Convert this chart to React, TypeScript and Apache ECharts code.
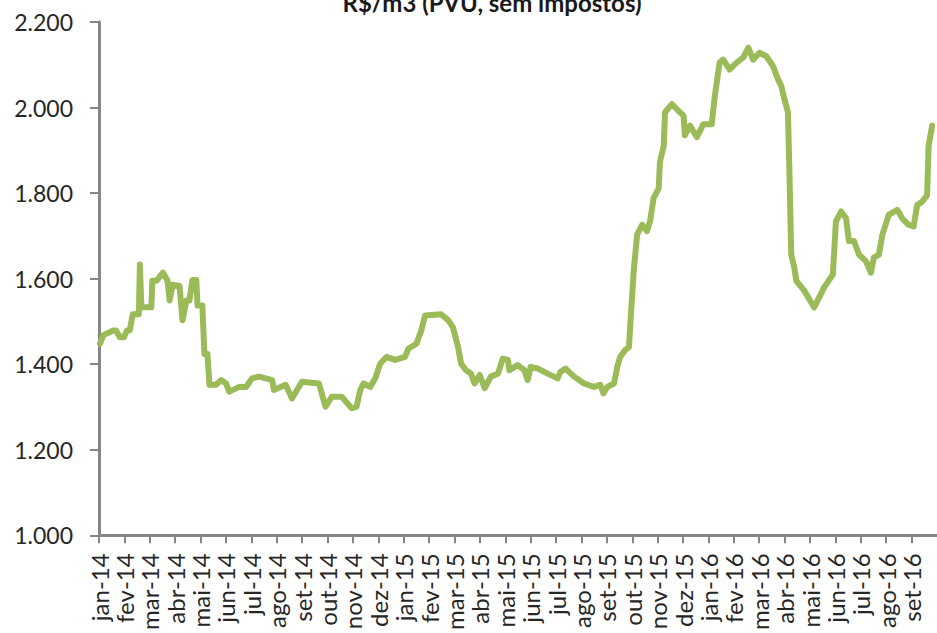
import React, { useEffect, useRef } from "react";
import * as echarts from "echarts";

const titleText = "R$/m3 (PVU, sem impostos)";

const monthLabels = [
  "jan-14", "fev-14", "mar-14", "abr-14", "mai-14", "jun-14", "jul-14", "ago-14", "set-14", "out-14", "nov-14", "dez-14",
  "jan-15", "fev-15", "mar-15", "abr-15", "mai-15", "jun-15", "jul-15", "ago-15", "set-15", "out-15", "nov-15", "dez-15",
  "jan-16", "fev-16", "mar-16", "abr-16", "mai-16", "jun-16", "jul-16", "ago-16", "set-16",
];

// position in months since jan-14
const monthPos = [
  0.04, 0.17, 0.56, 0.67, 0.82, 0.98, 1.10, 1.21, 1.33, 1.57, 1.61, 1.67, 2.06, 2.10, 2.26, 2.52, 2.70, 2.78, 2.90, 3.17,
  3.29, 3.44, 3.56, 3.68, 3.83, 3.88, 4.07, 4.15, 4.27, 4.35, 4.61, 4.81, 5.00, 5.13, 5.52, 5.79, 6.03, 6.31, 6.82, 6.89,
  7.35, 7.60, 7.99, 8.66, 8.92, 9.17, 9.56, 9.95, 10.14, 10.29, 10.42, 10.68, 10.88, 11.07, 11.32, 11.66, 12.05, 12.18, 12.50, 12.69,
  12.84, 13.47, 13.75, 13.94, 14.14, 14.26, 14.45, 14.65, 14.79, 14.99, 15.19, 15.43, 15.71, 15.90, 16.10, 16.16, 16.49, 16.75, 16.88, 17.00,
  17.27, 17.67, 18.06, 18.17, 18.37, 18.71, 19.10, 19.49, 19.74, 19.86, 20.02, 20.28, 20.41, 20.52, 20.72, 20.87, 20.95, 21.06, 21.19, 21.39,
  21.58, 21.70, 21.84, 22.04, 22.09, 22.24, 22.29, 22.56, 22.76, 23.02, 23.07, 23.27, 23.54, 23.80, 24.13, 24.25, 24.44, 24.58, 24.83, 25.11,
  25.37, 25.57, 25.76, 26.01, 26.28, 26.54, 26.74, 26.87, 26.99, 27.13, 27.18, 27.26, 27.38, 27.46, 27.77, 28.16, 28.36, 28.55, 28.90, 29.02,
  29.22, 29.42, 29.53, 29.73, 29.93, 30.20, 30.40, 30.51, 30.71, 30.85, 31.10, 31.44, 31.63, 31.88, 32.08, 32.22, 32.42, 32.61, 32.67, 32.81,
];

const priceValues = [
  1448, 1468, 1479, 1479, 1463, 1463, 1479, 1479, 1517, 1517, 1633, 1533, 1533, 1595, 1595, 1614, 1595, 1549, 1586, 1583,
  1503, 1549, 1549, 1597, 1597, 1537, 1537, 1424, 1424, 1352, 1352, 1363, 1355, 1336, 1347, 1347, 1367, 1371, 1363, 1340,
  1352, 1320, 1359, 1355, 1301, 1324, 1324, 1297, 1301, 1340, 1355, 1347, 1367, 1401, 1417, 1410, 1417, 1436, 1448, 1479,
  1514, 1517, 1503, 1486, 1440, 1401, 1386, 1378, 1355, 1375, 1344, 1371, 1378, 1413, 1410, 1386, 1398, 1386, 1363, 1394,
  1390, 1378, 1367, 1382, 1390, 1371, 1355, 1347, 1352, 1332, 1347, 1355, 1394, 1417, 1433, 1440, 1520, 1620, 1703, 1726,
  1711, 1734, 1788, 1811, 1873, 1911, 1989, 2008, 1996, 1981, 1935, 1958, 1931, 1961, 1961, 2027, 2105, 2112, 2089, 2105,
  2117, 2140, 2112, 2128, 2120, 2097, 2066, 2050, 2020, 1989, 1873, 1656, 1626, 1595, 1572, 1533, 1556, 1579, 1610, 1734,
  1757, 1741, 1688, 1688, 1656, 1641, 1614, 1649, 1656, 1703, 1749, 1761, 1741, 1726, 1722, 1772, 1780, 1795, 1911, 1958,
];

const yTicks = [1000, 1200, 1400, 1600, 1800, 2000, 2200];

export default function App() {
  const ref = useRef<HTMLDivElement>(null);

  useEffect(() => {
    if (!ref.current) return;
    const chart = echarts.init(ref.current, undefined, { renderer: "svg" });
    const font = "Lato, 'Noto Sans', sans-serif";
    const axisGray = "#868686";
    chart.setOption({
      animation: false,
      backgroundColor: "#ffffff",
      graphic: [
        {
          type: "text",
          x: 492,
          y: 2,
          style: {
            text: titleText,
            font: "bold 24px " + font,
            fill: "#1a1a1a",
            align: "center",
            verticalAlign: "middle",
          },
        },
      ],
      grid: { left: 99, right: -4.5, top: 22, bottom: 95, containLabel: false },
      xAxis: {
        type: "value",
        min: 0,
        max: 33,
        interval: 1,
        splitLine: { show: false },
        axisLine: { show: true, onZero: false, lineStyle: { color: axisGray, width: 3 } },
        axisTick: { show: true, inside: false, length: 8, lineStyle: { color: axisGray, width: 2 } },
        axisLabel: {
          rotate: 90,
          margin: 18,
          fontFamily: font,
          fontSize: 24,
          color: "#262626",
          showMaxLabel: false,
          formatter: (v: number) => {
            const i = Math.round(v);
            return Math.abs(v - i) < 1e-6 && i < monthLabels.length ? monthLabels[i] : "";
          },
        },
      },
      yAxis: {
        type: "value",
        min: yTicks[0],
        max: yTicks[yTicks.length - 1],
        interval: 200,
        splitLine: { show: false },
        axisLine: { show: true, lineStyle: { color: axisGray, width: 3 } },
        axisTick: { show: true, inside: false, length: 9, lineStyle: { color: axisGray, width: 2 } },
        axisLabel: {
          margin: 26,
          fontFamily: font,
          fontSize: 23,
          color: "#262626",
          formatter: (v: number) => (v / 1000).toFixed(3),
        },
      },
      series: [
        {
          type: "line",
          data: monthPos.map((m, i) => [m, priceValues[i]]),
          showSymbol: false,
          symbol: "none",
          clip: true,
          lineStyle: { color: "#9BBB59", width: 6, join: "round", cap: "round" },
        },
      ],
    });
    return () => chart.dispose();
  }, []);

  return (
    <div
      ref={ref}
      style={{ position: "fixed", left: 0, top: 0, width: 937, height: 633, background: "#fff" }}
    />
  );
}
